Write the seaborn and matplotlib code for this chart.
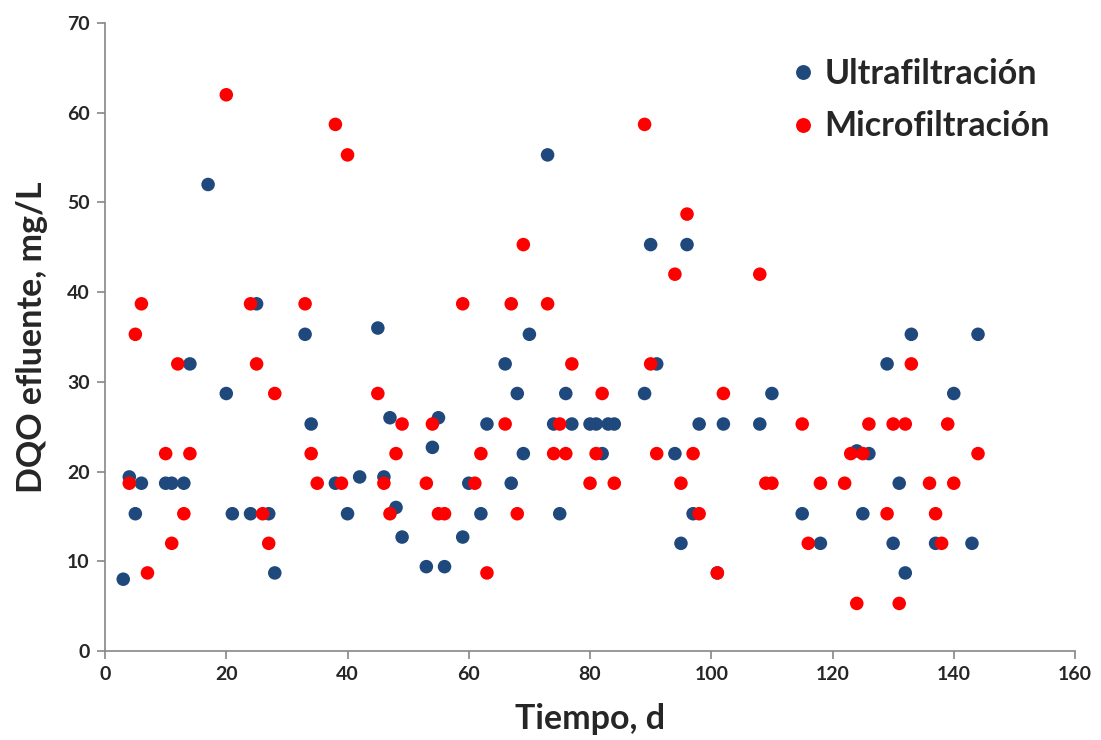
import matplotlib
matplotlib.use("Agg")
import matplotlib.pyplot as plt
import seaborn as sns
import pandas as pd

uf_day = [3, 4, 5, 6, 10, 11, 13, 14, 17, 20, 21, 24, 25, 27, 28, 33, 34, 38, 40, 42,
          45, 46, 47, 48, 49, 53, 54, 55, 56, 59, 60, 62, 63, 66, 67, 68, 69, 70, 73, 74,
          75, 76, 77, 80, 81, 82, 83, 84, 89, 90, 91, 94, 95, 96, 97, 98, 101, 102, 108, 110,
          115, 118, 124, 125, 126, 129, 130, 131, 132, 133, 137, 140, 143, 144]
uf_dqo = [8.0, 19.4, 15.3, 18.7, 18.7, 18.7, 18.7, 32.0, 52.0, 28.7, 15.3, 15.3, 38.7, 15.3, 8.7, 35.3, 25.3, 18.7, 15.3, 19.4,
          36.0, 19.4, 26.0, 16.0, 12.7, 9.4, 22.7, 26.0, 9.4, 12.7, 18.7, 15.3, 25.3, 32.0, 18.7, 28.7, 22.0, 35.3, 55.3, 25.3,
          15.3, 28.7, 25.3, 25.3, 25.3, 22.0, 25.3, 25.3, 28.7, 45.3, 32.0, 22.0, 12.0, 45.3, 15.3, 25.3, 8.7, 25.3, 25.3, 28.7,
          15.3, 12.0, 22.3, 15.3, 22.0, 32.0, 12.0, 18.7, 8.7, 35.3, 12.0, 28.7, 12.0, 35.3]

mf_day = [4, 5, 6, 7, 10, 11, 12, 13, 14, 20, 24, 25, 26, 27, 28, 33, 34, 35, 38, 39,
          40, 45, 46, 47, 48, 49, 53, 54, 55, 56, 59, 61, 62, 63, 66, 67, 68, 69, 73, 74,
          75, 76, 77, 80, 81, 82, 84, 89, 90, 91, 94, 95, 96, 97, 98, 101, 102, 108, 109, 110,
          115, 116, 118, 122, 123, 124, 125, 126, 129, 130, 131, 132, 133, 136, 137, 138, 139, 140, 144]
mf_dqo = [18.7, 35.3, 38.7, 8.7, 22.0, 12.0, 32.0, 15.3, 22.0, 62.0, 38.7, 32.0, 15.3, 12.0, 28.7, 38.7, 22.0, 18.7, 58.7, 18.7,
          55.3, 28.7, 18.7, 15.3, 22.0, 25.3, 18.7, 25.3, 15.3, 15.3, 38.7, 18.7, 22.0, 8.7, 25.3, 38.7, 15.3, 45.3, 38.7, 22.0,
          25.3, 22.0, 32.0, 18.7, 22.0, 28.7, 18.7, 58.7, 32.0, 22.0, 42.0, 18.7, 48.7, 22.0, 15.3, 8.7, 28.7, 42.0, 18.7, 18.7,
          25.3, 12.0, 18.7, 18.7, 22.0, 5.3, 22.0, 25.3, 15.3, 25.3, 5.3, 25.3, 32.0, 18.7, 15.3, 12.0, 25.3, 18.7, 22.0]

series_names = ["Ultrafiltración", "Microfiltración"]
x_ticks = [0, 20, 40, 60, 80, 100, 120, 140, 160]
y_ticks = [0, 10, 20, 30, 40, 50, 60, 70]

df = pd.concat([
    pd.DataFrame({"Tiempo": uf_day, "DQO": uf_dqo, "Serie": series_names[0]}),
    pd.DataFrame({"Tiempo": mf_day, "DQO": mf_dqo, "Serie": series_names[1]}),
], ignore_index=True)

sns.set_theme(style="white")
plt.rcParams["font.family"] = ["Lato", "DejaVu Sans"]

fig = plt.figure(figsize=(11.01, 7.40), dpi=100)
ax = fig.add_axes([0.0954, 0.1203, 0.881, 0.8486])

sns.scatterplot(data=df, x="Tiempo", y="DQO", hue="Serie",
                palette={series_names[0]: "#1F497D", series_names[1]: "#FF0000"},
                s=95, edgecolor="none", linewidth=0, ax=ax, legend=True)

ax.set_xlim(0, 160)
ax.set_ylim(0, 70)
ax.set_xticks(x_ticks)
ax.set_yticks(y_ticks)
ax.set_xticklabels([str(v) for v in x_ticks], fontsize=14, fontweight="bold")
ax.set_yticklabels([str(v) for v in y_ticks], fontsize=14, fontweight="bold")
ax.tick_params(axis="both", which="major", direction="out", length=6, width=1.2,
               color="#868686", pad=5, bottom=True, left=True)
for side in ["top", "right"]:
    ax.spines[side].set_visible(False)
for side in ["left", "bottom"]:
    ax.spines[side].set_color("#868686")
    ax.spines[side].set_linewidth(1.2)

ax.set_xlabel("Tiempo, d", fontsize=24.5, fontweight="bold", labelpad=14)
ax.set_ylabel("DQO efluente, mg/L", fontsize=24.5, fontweight="bold", labelpad=14)

leg = ax.legend(loc="upper left", bbox_to_anchor=(0.67, 0.993), frameon=False,
                fontsize=24.5, markerscale=1.1, handlelength=1.0, handletextpad=0.15,
                labelspacing=0.6)
for t in leg.get_texts():
    t.set_fontweight("bold")

fig.savefig("out.png", dpi=100)
